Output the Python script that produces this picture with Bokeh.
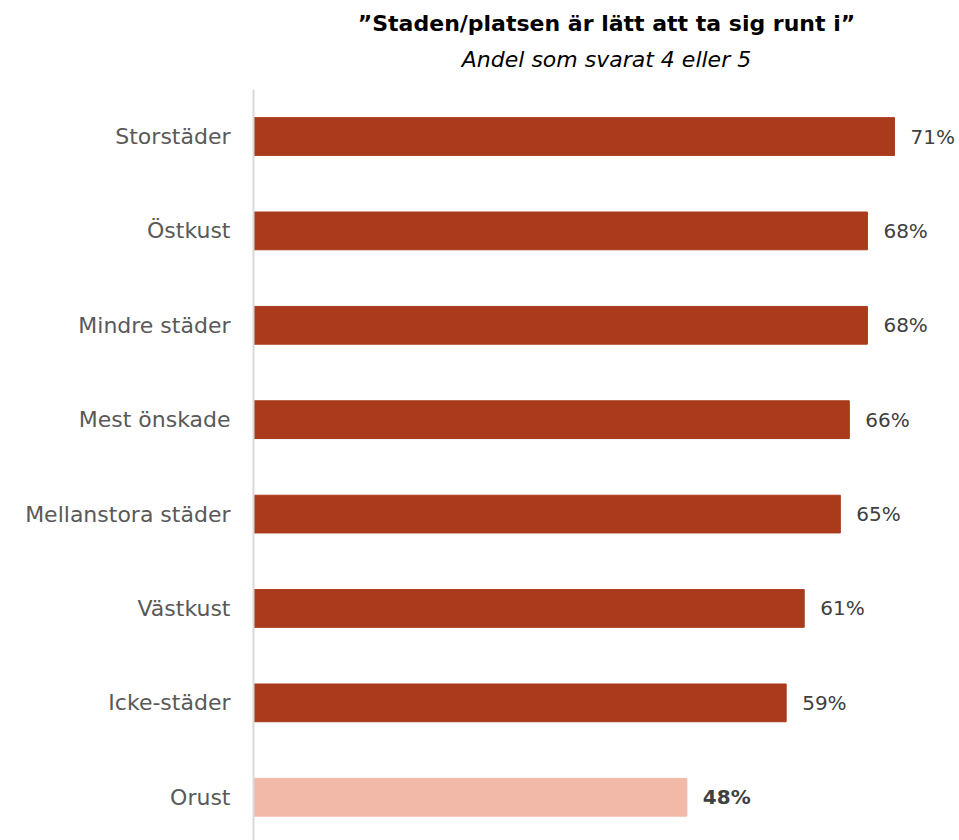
from bokeh.plotting import figure
from bokeh.models import ColumnDataSource, Range1d, FixedTicker, Title
from bokeh.core.properties import value
from bokeh.embed import file_html
from bokeh.resources import INLINE

categories = ["Storstäder", "Östkust", "Mindre städer", "Mest önskade",
              "Mellanstora städer", "Västkust", "Icke-städer", "Orust"]
values = [71, 68, 68, 66, 65, 61, 59, 48]
colors = ["#A93A1B"] * 7 + ["#F2B9A8"]
label_styles = ["normal"] * 7 + ["bold"]

FONT = "DejaVu Sans"
n = len(categories)
ypos = [n - 1 - i for i in range(n)]
labels = [f"{v}%" for v in values]

src = ColumnDataSource(dict(y=ypos, v=values, c=colors, lab=labels, fs=label_styles))

p = figure(width=959, height=840, output_backend="svg", toolbar_location=None,
           title=None, x_range=Range1d(0, 78.2), y_range=Range1d(-0.458, 7.498),
           min_border_left=253, min_border_right=0, min_border_bottom=0, min_border_top=89)

p.hbar(y="y", right="v", left=0, height=0.40, color="c", source=src)
p.text(x="v", y="y", text="lab", source=src, x_offset=16, text_baseline="middle",
       text_align="left", text_font=value(FONT), text_font_size="20px",
       text_color="#404040", text_font_style="fs")

sub = Title(text="Andel som svarat 4 eller 5", align="center", text_font=FONT,
            text_font_size="22px", text_font_style="italic", text_color="#000000",
            offset=0, standoff=35)
main = Title(text="\u201dStaden/platsen är lätt att ta sig runt i\u201d", align="center",
             text_font=FONT, text_font_size="22px", text_font_style="bold",
             text_color="#000000", standoff=-17, offset=0)
p.add_layout(sub, "above")
p.add_layout(main, "above")

p.xaxis.visible = False
p.xgrid.visible = False
p.ygrid.visible = False
p.outline_line_color = None

ya = p.yaxis[0]
ya.ticker = FixedTicker(ticks=ypos)
ya.major_label_overrides = {y: c for y, c in zip(ypos, categories)}
ya.major_tick_line_color = None
ya.minor_tick_line_color = None
ya.axis_line_color = "#D9D9D9"
ya.axis_line_width = 2
ya.major_label_standoff = 17
ya.major_label_text_font = FONT
ya.major_label_text_font_size = "22px"
ya.major_label_text_color = "#595959"

open("out.html", "w").write(file_html(p, INLINE))
